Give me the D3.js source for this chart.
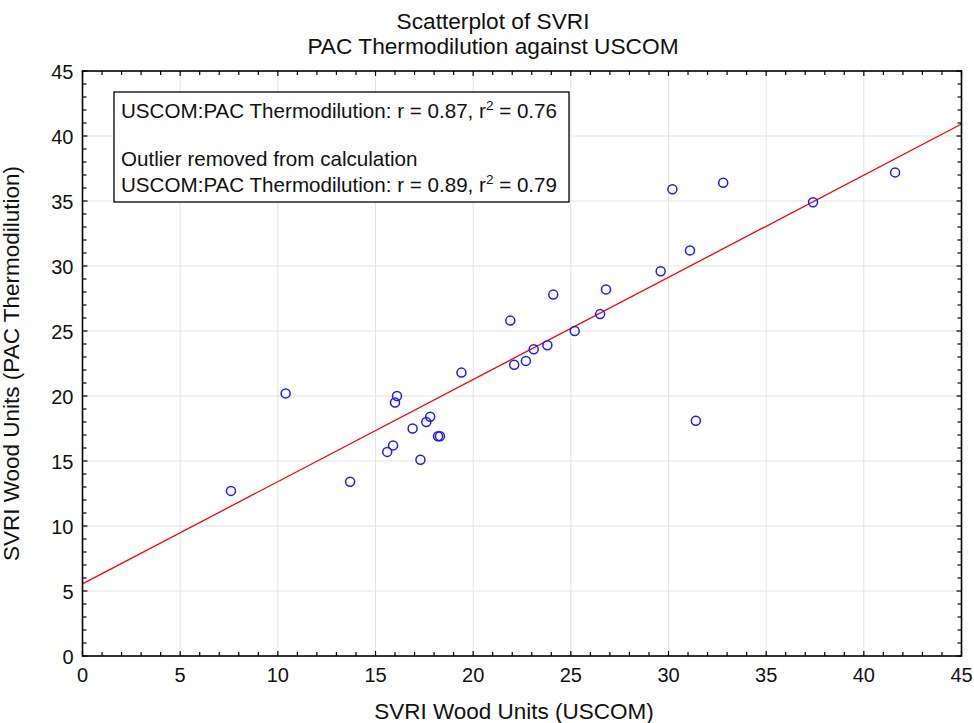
<!DOCTYPE html>
<html>
<head>
	<title>Scatterplot of SVRI</title>
	<script src="https://cdn.jsdelivr.net/npm/d3@7"></script>
	<style type="text/css">
		body { margin: 0; background: #fff; }
		text { font-family: "Liberation Sans", Arial, sans-serif; fill: #111; }
	</style>
</head>
<body>
	<svg width=974 height=723 class="chart"></svg>
	<script type="text/javascript">

		// SVRI Wood Units: USCOM (x) vs PAC thermodilution (y)
		uscom = [7.6, 10.4, 13.7, 15.6, 15.9, 16.0, 16.1, 16.9, 17.3, 17.6, 17.8, 18.2, 18.3,
			19.4, 21.9, 22.1, 22.7, 23.1, 23.8, 24.1, 25.2, 26.5, 26.8, 29.6, 30.2, 31.1,
			31.4, 32.8, 37.4, 41.6]
		pac = [12.7, 20.2, 13.4, 15.7, 16.2, 19.5, 20.0, 17.5, 15.1, 18.0, 18.4, 16.9, 16.9,
			21.8, 25.8, 22.4, 22.7, 23.6, 23.9, 27.8, 25.0, 26.3, 28.2, 29.6, 35.9, 31.2,
			18.1, 36.4, 34.9, 37.2]

		// regression line
		fitIntercept = 5.55
		fitSlope = 0.786

		xTicks = [0, 5, 10, 15, 20, 25, 30, 35, 40, 45]
		yTicks = [0, 5, 10, 15, 20, 25, 30, 35, 40, 45]

		legendLines = [
			['USCOM:PAC Thermodilution: r = 0.87, r', '2', ' = 0.76'],
			['Outlier removed from calculation'],
			['USCOM:PAC Thermodilution: r = 0.89, r', '2', ' = 0.79']
		]

		margin = {top: 71, right: 12.5, bottom: 67, left: 82.5}
		svg = d3.select('.chart')
		W = +svg.attr('width') - margin.left - margin.right
		H = +svg.attr('height') - margin.top - margin.bottom

		x = d3.scaleLinear().domain([0, 45]).range([0, W])
		y = d3.scaleLinear().domain([0, 45]).range([H, 0])

		g = svg.append('g').attr('transform', 'translate(' + margin.left + ',' + margin.top + ')')

		// grid
		g.append('g').selectAll('line').data(xTicks.slice(1, -1)).enter().append('line')
			.attr('x1', d => x(d)).attr('x2', d => x(d)).attr('y1', 0).attr('y2', H)
			.attr('stroke', '#e3e3e3').attr('stroke-width', 1)
		g.append('g').selectAll('line').data(yTicks.slice(1, -1)).enter().append('line')
			.attr('y1', d => y(d)).attr('y2', d => y(d)).attr('x1', 0).attr('x2', W)
			.attr('stroke', '#e3e3e3').attr('stroke-width', 1)

		// inward ticks on all four sides
		minor = d3.range(0, 46)
		function tickLen(d) { return d % 5 == 0 ? 5 : 4 }
		ticks = g.append('g').attr('stroke', '#000').attr('stroke-width', 1.2)
		ticks.selectAll('.tb').data(minor).enter().append('line')
			.attr('x1', d => x(d)).attr('x2', d => x(d)).attr('y1', H).attr('y2', d => H - tickLen(d))
		ticks.selectAll('.tt').data(minor).enter().append('line')
			.attr('x1', d => x(d)).attr('x2', d => x(d)).attr('y1', 0).attr('y2', d => tickLen(d))
		ticks.selectAll('.tl').data(minor).enter().append('line')
			.attr('y1', d => y(d)).attr('y2', d => y(d)).attr('x1', 0).attr('x2', d => tickLen(d))
		ticks.selectAll('.tr').data(minor).enter().append('line')
			.attr('y1', d => y(d)).attr('y2', d => y(d)).attr('x1', W).attr('x2', d => W - tickLen(d))

		// tick labels
		g.append('g').selectAll('text').data(xTicks).enter().append('text')
			.attr('x', d => x(d)).attr('y', H + 26)
			.attr('text-anchor', 'middle').attr('font-size', 20)
			.text(d => d)
		g.append('g').selectAll('text').data(yTicks).enter().append('text')
			.attr('x', -9).attr('y', d => y(d) + 7.5)
			.attr('text-anchor', 'end').attr('font-size', 20)
			.text(d => d)

		// regression line
		g.append('line')
			.attr('x1', x(0)).attr('y1', y(fitIntercept))
			.attr('x2', x(45)).attr('y2', y(fitIntercept + fitSlope * 45))
			.attr('stroke', '#ff0000').attr('stroke-width', 1.3)

		// points
		g.append('g').selectAll('circle').data(d3.zip(uscom, pac)).enter().append('circle')
			.attr('cx', d => x(d[0])).attr('cy', d => y(d[1])).attr('r', 4.5)
			.attr('fill', 'none').attr('stroke', '#1a1aff').attr('stroke-width', 1.5)

		// frame
		g.append('rect').attr('width', W).attr('height', H)
			.attr('fill', 'none').attr('stroke', '#000').attr('stroke-width', 1.6)

		// legend box
		lg = g.append('g').attr('transform', 'translate(31.5,21)')
		lg.append('rect').attr('width', 455).attr('height', 110)
			.attr('fill', '#fff').attr('stroke', '#000').attr('stroke-width', 1.3)
		legendY = [26, 74, 100]
		legendLines.forEach(function(parts, i) {
			t = lg.append('text').attr('x', 7).attr('y', legendY[i]).attr('font-size', 20.6)
			t.append('tspan').text(parts[0])
			if (parts.length > 1) {
				t.append('tspan').attr('dy', -8).attr('font-size', 13.5).text(parts[1])
				t.append('tspan').attr('dy', 8).text(parts[2])
			}
		})

		// titles
		svg.append('text').attr('x', 493).attr('y', 29)
			.attr('text-anchor', 'middle').attr('font-size', 22.7).text('Scatterplot of SVRI')
		svg.append('text').attr('x', 493).attr('y', 54)
			.attr('text-anchor', 'middle').attr('font-size', 22.7).text('PAC Thermodilution against USCOM')
		svg.append('text').attr('x', 514).attr('y', 719)
			.attr('text-anchor', 'middle').attr('font-size', 22.5).text('SVRI Wood Units (USCOM)')
		svg.append('text')
			.attr('transform', 'translate(18.5,' + (margin.top + H / 2) + ') rotate(-90)')
			.attr('text-anchor', 'middle').attr('font-size', 22.5).text('SVRI Wood Units (PAC Thermodilution)')

	</script>
</body>
</html>
